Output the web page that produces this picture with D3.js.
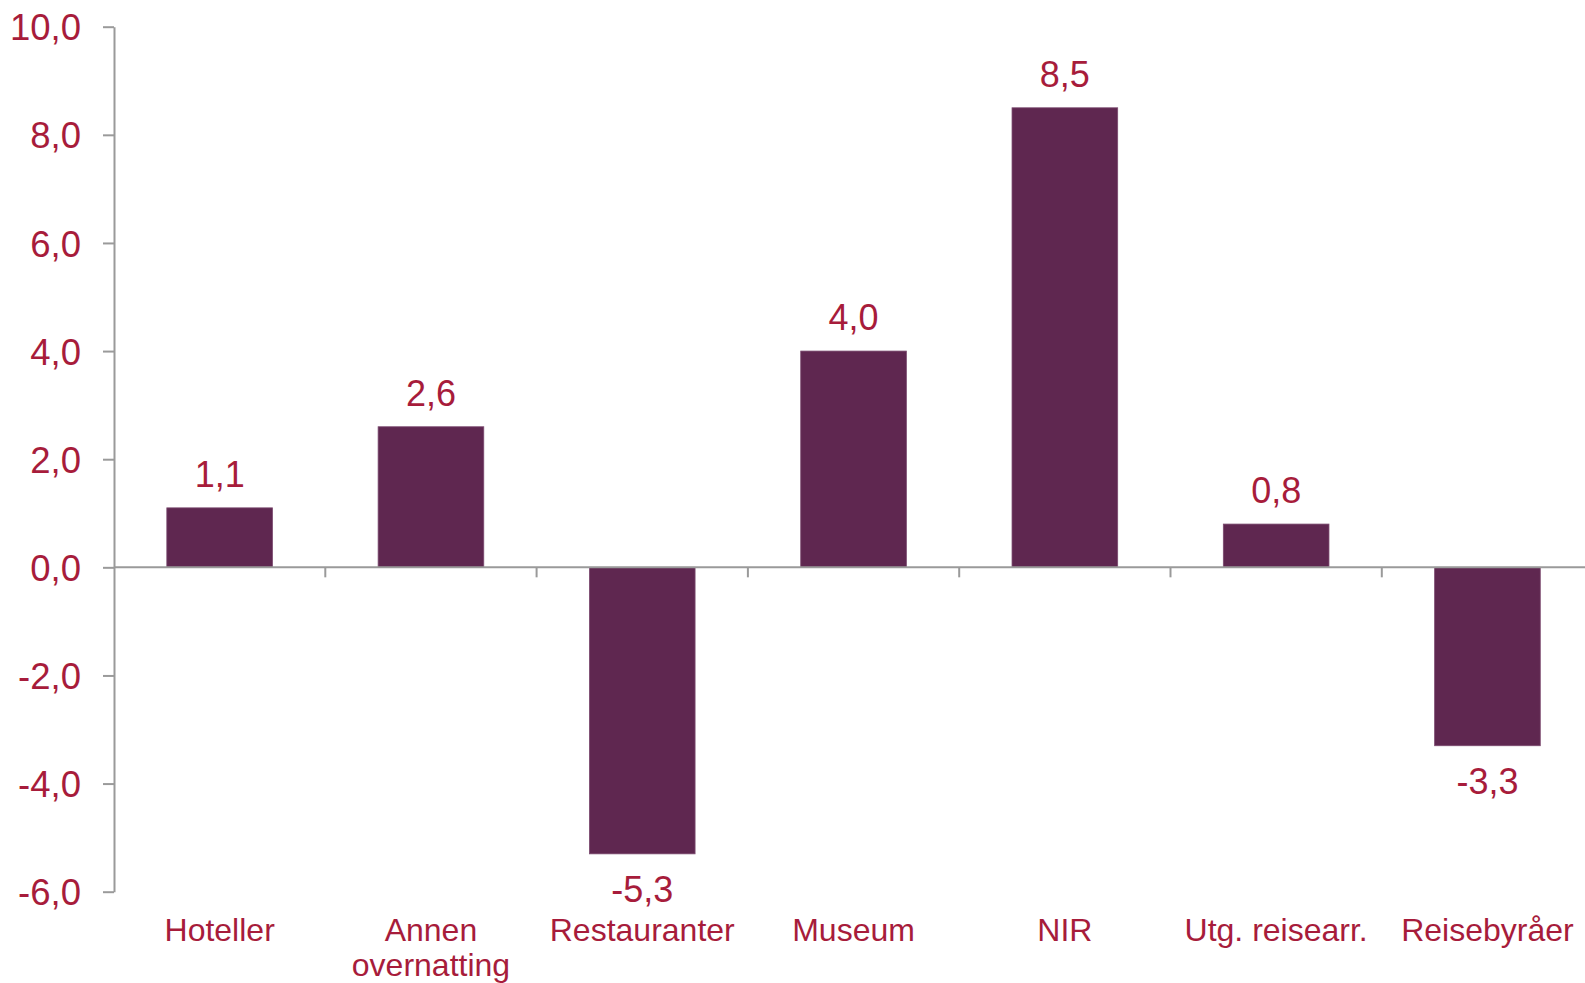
<!DOCTYPE html>
<html>
<head>
<meta charset="utf-8">
<script src="https://cdn.jsdelivr.net/npm/d3@7"></script>
<style>
  html, body { margin: 0; padding: 0; background: #fff; }
  svg { display: block; font-family: "Liberation Sans", Arial, sans-serif; }
</style>
</head>
<body>
<div id="chart"></div>
<script>
// Chart data
const categories = ["Hoteller", "Annen overnatting", "Restauranter", "Museum", "NIR", "Utg. reisearr.", "Reisebyråer"];
const values = [1.1, 2.6, -5.3, 4.0, 8.5, 0.8, -3.3];
const yTicks = [-6, -4, -2, 0, 2, 4, 6, 8, 10];

(function(){
    const width = 1585;
    const height = 983;
    const textColor = "#a71c3b";
    const barColor = "#5f2750";
    const axisColor = "#9a9a9a";

    const left = 114;
    const step = 211.3;
    const yTop = 26.7, yBottom = 891.7;

    const nb = d3.formatLocale({decimal: ",", thousands: " ", grouping: [3], currency: ["", " kr"], minus: "-"});
    const fmt = nb.format(".1f");

    const svg = d3.select("#chart")
        .append("svg")
        .attr("width", width)
        .attr("height", height);

    const x = d3.scaleBand()
        .domain(categories)
        .range([left, left + step * categories.length])
        .paddingInner(0.5)
        .paddingOuter(0.25);

    const y = d3.scaleLinear()
        .domain([-6, 10])
        .range([yBottom, yTop]);

    // Bars
    svg.selectAll(".bar")
        .data(values)
        .enter().append("rect")
        .attr("class", "bar")
        .attr("x", (d, i) => x(categories[i]))
        .attr("width", x.bandwidth())
        .attr("y", d => y(Math.max(0, d)))
        .attr("height", d => Math.abs(y(d) - y(0)))
        .style("fill", barColor)
        .style("stroke", "#7b4a6f")
        .style("stroke-width", 0.8);

    // Y axis
    const yAxis = svg.append("g")
        .attr("transform", "translate(" + left + ",0)")
        .call(d3.axisLeft(y).tickValues(yTicks).tickFormat(fmt).tickSizeInner(11).tickSizeOuter(0).tickPadding(22));
    yAxis.select(".domain").style("stroke", axisColor).style("stroke-width", 2);
    yAxis.selectAll(".tick line").style("stroke", axisColor).style("stroke-width", 2);
    yAxis.selectAll(".tick text")
        .attr("dy", "0.36em")
        .style("font-size", "36.5px")
        .style("font-family", "Liberation Sans, Arial, sans-serif")
        .style("fill", textColor);

    // X axis line at zero with ticks between categories
    const boundaries = d3.range(1, categories.length + 1).map(k => left + k * x.step());
    const xAxis = svg.append("g").attr("class", "x-axis");
    xAxis.append("line")
        .attr("x1", left)
        .attr("x2", left + x.step() * categories.length)
        .attr("y1", y(0))
        .attr("y2", y(0))
        .style("stroke", axisColor)
        .style("stroke-width", 2);
    xAxis.selectAll(".xtick")
        .data(boundaries)
        .enter().append("line")
        .attr("class", "xtick")
        .attr("x1", d => d)
        .attr("x2", d => d)
        .attr("y1", y(0))
        .attr("y2", y(0) + 10)
        .style("stroke", axisColor)
        .style("stroke-width", 2);

    // Value labels
    svg.selectAll(".value")
        .data(values)
        .enter().append("text")
        .attr("class", "value")
        .attr("x", (d, i) => x(categories[i]) + x.bandwidth() / 2)
        .attr("y", d => d >= 0 ? y(d) - 21 : y(d) + 48)
        .attr("text-anchor", "middle")
        .style("font-size", "36px")
        .style("fill", textColor)
        .text(d => fmt(d));

    // Category labels, wrapped to the band step
    const catLabels = svg.selectAll(".cat")
        .data(categories)
        .enter().append("text")
        .attr("class", "cat")
        .attr("x", d => x(d) + x.bandwidth() / 2)
        .attr("y", 941)
        .attr("text-anchor", "middle")
        .style("font-size", "32px")
        .style("fill", textColor);

    catLabels.each(function(d) {
        const text = d3.select(this);
        const cx = +text.attr("x");
        const words = d.split(" ");
        let line = [];
        let tspan = text.append("tspan").attr("x", cx).attr("dy", 0);
        words.forEach(w => {
            line.push(w);
            tspan.text(line.join(" "));
            if (tspan.node().getComputedTextLength() > x.step() - 5 && line.length > 1) {
                line.pop();
                tspan.text(line.join(" "));
                line = [w];
                tspan = text.append("tspan").attr("x", cx).attr("dy", 35).text(w);
            }
        });
    });
})();
</script>
</body>
</html>
